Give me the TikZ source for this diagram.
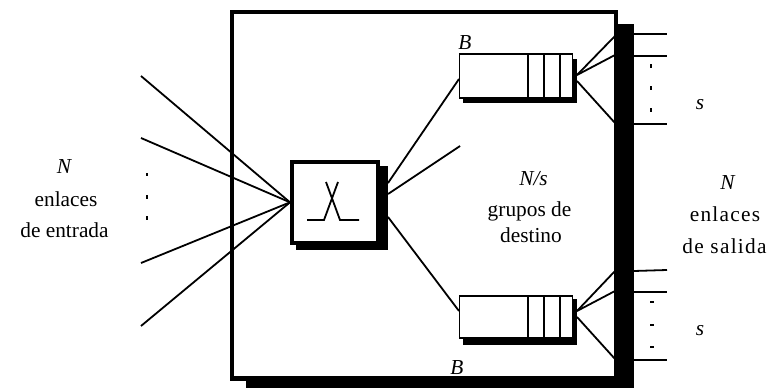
\documentclass[tikz,border=0pt]{standalone}
\usepackage{fontspec}
\setmainfont{Liberation Serif}
\newfontfamily\spacedfont[LetterSpace=6]{Liberation Serif}
\tikzset{
  x=0.75pt,y=-0.75pt,
  wire/.style={line width=1.35pt,black},
  dotmark/.style={fill=black,inner sep=0pt,minimum width=2pt,minimum height=2.4pt},
  label/.style={font=\fontsize{16}{18}\selectfont,inner sep=0pt,anchor=base},
  spaced/.style={font=\spacedfont\fontsize{16}{18}\selectfont},
  shade/.style={fill=black,draw=none},
  queuebox/.style={draw=black,fill=white,line width=1.3pt,outer sep=0pt,inner sep=0pt,anchor=north west,minimum width=84.75pt},
  cell/.style={line width=1.3pt},
}
\begin{document}
\begin{tikzpicture}
\useasboundingbox (0,0) rectangle (767,388);
% main box
\fill[shade] (245.5,24) rectangle (634,388);
\draw[fill=white,draw=black,line width=3.4pt] (232,12) rectangle (616,378.5);
% input links
\coordinate (i1) at (141,76);\coordinate (i2) at (141,138);\coordinate (i3) at (141,263);\coordinate (i4) at (141,326);
% switch
\fill[shade] (296,166) rectangle (388,250);
\node[draw=black,fill=white,line width=3pt,outer sep=1.5pt,minimum width=64.5pt,minimum height=60.5pt,inner sep=0pt,anchor=north west] (sw) at (290,160) {};
\foreach \p in {i1,i2,i3,i4} \draw[wire] (\p) -- (sw.west);
\draw[wire] (307,220) -- (324,220) -- (338,182);
\draw[wire] (359,220) -- (340,220) -- (326,182);
% queues
\fill[shade] (463,59) rectangle (577,103);
\node[queuebox,minimum height=33pt] (q1) at (459.5,54) {};
\fill[shade] (463,299) rectangle (577,345);
\node[queuebox,minimum height=31.5pt] (q2) at (459.5,296) {};
\foreach \xx in {528,544,560}{
  \draw[cell] (\xx,54) -- (\xx,98);
  \draw[cell] (\xx,296) -- (\xx,338);
}
% switch to queues
\coordinate (sa) at (388,183);
\coordinate (sb) at (388,194);
\coordinate (sc) at (388,217);
\coordinate (mid) at (460,146);
\draw[wire] (sa) -- (459,79);
\draw[wire] (sb) -- (mid);
\draw[wire] (sc) -- (459,311);
% queue outputs
\draw[wire] (577,75) -- (615,36);
\draw[wire] (577,75) -- (615,55);
\draw[wire] (577,81) -- (615,123);
\draw[wire] (577,311) -- (615,271);
\draw[wire] (577,311) -- (615,291);
\draw[wire] (577,317) -- (615,359);
% outgoing
\foreach \yy in {34,56,124} \draw[wire] (634,\yy) -- (667,\yy);
\draw[wire] (634,271) -- (667,270);
\draw[wire] (634,292) -- (667,292);
\draw[wire] (634,360) -- (667,360);
% dots
\foreach \yy in {174.5,197,218} \node[dotmark] (dl\yy) at (147,\yy) {};
\foreach \yy in {66,88,110} \node[dotmark] (dt\yy) at (651,\yy) {};
\foreach \yy in {302,325,347} \node[dotmark,minimum width=3pt,minimum height=1.6pt] (db\yy) at (652,\yy) {};
% labels
\node[label] (lN) at (64.5,174) {\textit{N}};
\node[label] (l1) at (66,207) {enlaces};
\node[label] (l1b) at (64.5,238) {de entrada};
\node[label] (rN) at (728,190) {\textit{N}};
\node[label,spaced] (r1) at (725,222) {enlaces};
\node[label,spaced] (r1b) at (724.5,253) {de salida};
\node[label] (cN) at (533.5,186) {\textit{N/s}};
\node[label] (c1) at (529.5,217) {grupos de};
\node[label] (c2) at (531,243) {destino};
\node[label] (bt) at (465,50) {\textit{B}};
\node[label] (bb) at (457,374) {\textit{B}};
\node[label] (s1) at (700,110) {\textit{s}};
\node[label] (s2) at (700,335) {\textit{s}};
\end{tikzpicture}
\end{document}
